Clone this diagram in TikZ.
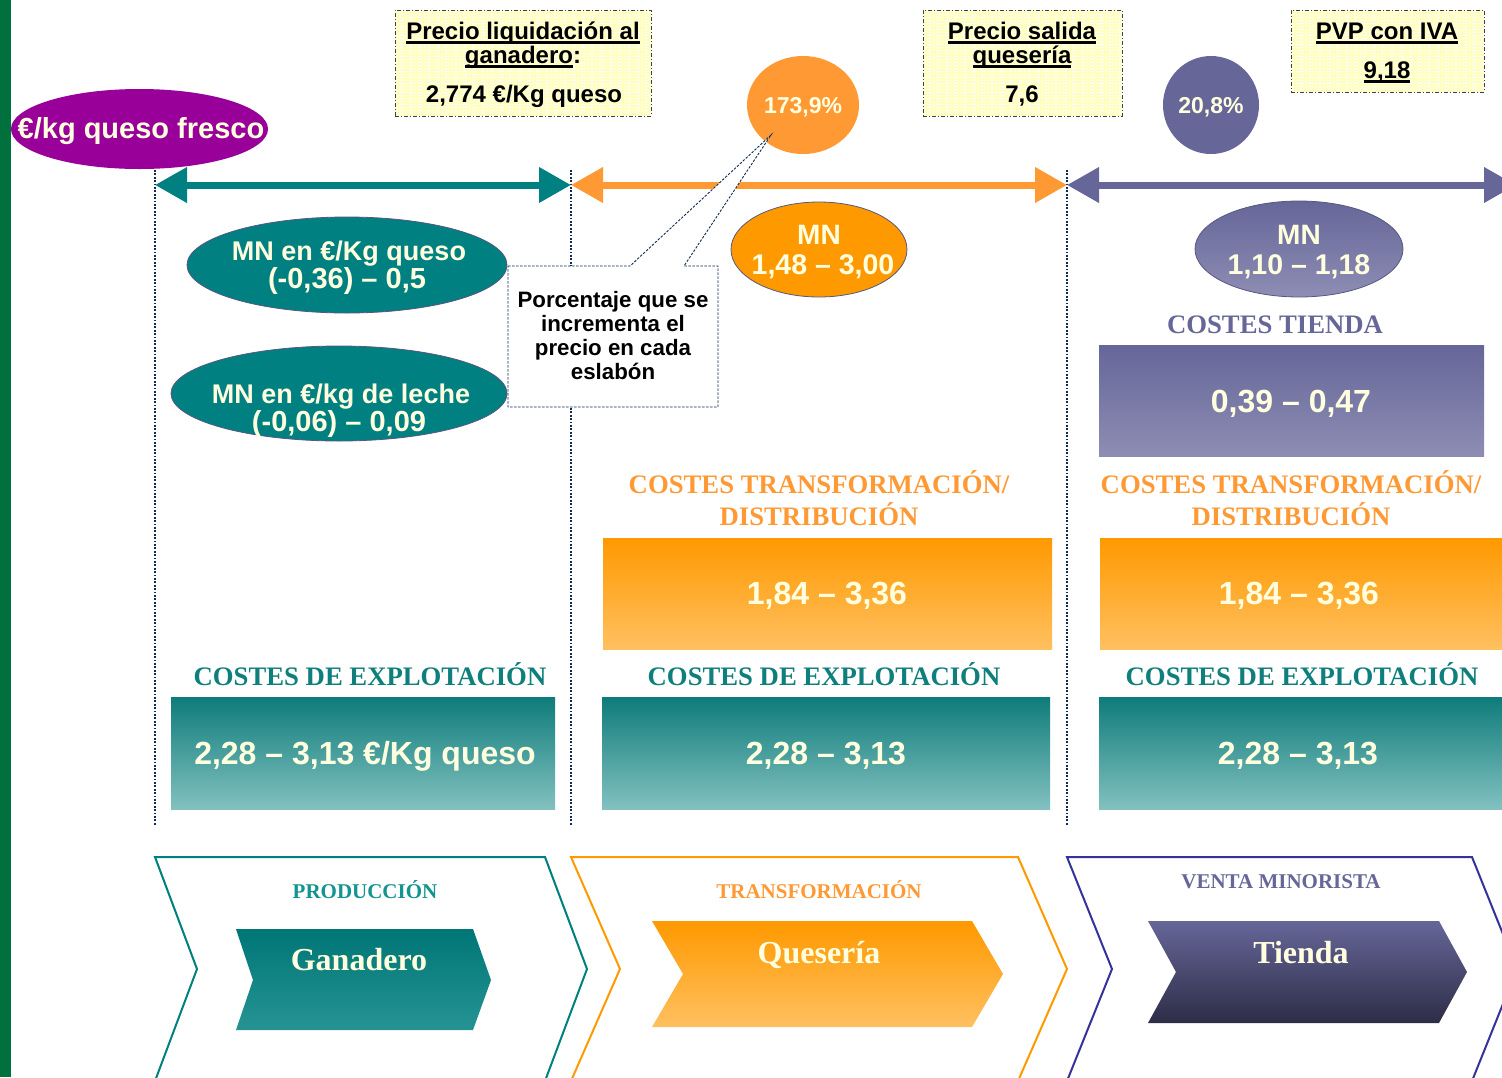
\documentclass[tikz,border=0pt]{standalone}
\usepackage{fontspec}
\setmainfont{Liberation Serif}
\setsansfont{Liberation Sans}
\usetikzlibrary{arrows.meta,shapes.geometric,patterns}

\definecolor{barGreen}{HTML}{00703C}
\definecolor{tealC}{HTML}{008080}
\definecolor{tealHead}{HTML}{0E7F7D}
\definecolor{tealSoft}{HTML}{129490}
\definecolor{tealTop}{HTML}{0E7C7A}
\definecolor{tealLight}{HTML}{82C1C0}
\definecolor{orangeC}{HTML}{FF9933}
\definecolor{orangeD}{HTML}{FF9900}
\definecolor{orangeL}{HTML}{FFC060}
\definecolor{purpleC}{HTML}{666699}
\definecolor{purpleL}{HTML}{8D8DB4}
\definecolor{purpleD}{HTML}{2D2D47}
\definecolor{navyLine}{HTML}{333399}
\definecolor{magentaC}{HTML}{990099}
\definecolor{creamT}{HTML}{FFFFE0}
\definecolor{noteYellow}{HTML}{FFFFC4}
\definecolor{dotNavy}{HTML}{102A50}

\newcommand\SansB[1]{\fontsize{#1}{#1}\sffamily\bfseries}
\newcommand\SerifB[1]{\fontsize{#1}{#1}\rmfamily\bfseries}
\newsavebox\ulbox
\newcommand\ulx[1]{\sbox\ulbox{#1}\rlap{\rule[-4.5pt]{\wd\ulbox}{2.2pt}}\usebox\ulbox}

\begin{document}
\begin{tikzpicture}[x=1pt,y=-1pt,
  txt/.style={inner sep=0pt, anchor=base},
  ytag/.style={preaction={fill=noteYellow}, pattern=horizontal lines, pattern color=white,
    draw=black!75, line width=0.9pt, dash pattern=on 4pt off 2pt on 1pt off 2pt,
    inner sep=0pt},
  dotline/.style={dotNavy, line width=2.8pt, dash pattern=on 1.8pt off 1.6pt},
  flow/.style={line width=7pt, {Triangle[length=32pt,width=34pt]}-{Triangle[length=32pt,width=34pt]}},
  oval/.style={ellipse, inner sep=0pt},
  rim/.style={draw=purpleC!85!black, line width=0.8pt},
  panel/.style={rectangle, inner sep=0pt},
  chev/.style={line width=2pt, line join=miter},
  numtxt/.style={txt, text=creamT, font={\SansB{32}}},
  head/.style={txt, font={\SerifB{26.7}}},
  tag/.style={txt, font={\SansB{24}}}
]
\path[use as bounding box] (0,0) rectangle (1502,1077);
\clip (0,0) rectangle (1502,1077);
\fill[white] (0,0) rectangle (1502,1077);

% left margin bar
\fill[barGreen] (0,0) rectangle (11,1077);

% stage borders
\coordinate (s1t) at (155,170); \coordinate (s1b) at (155,825);
\coordinate (s2t) at (571,170); \coordinate (s2b) at (571,825);
\coordinate (s3t) at (1067,170); \coordinate (s3b) at (1067,825);
\draw[dotline] (s1t) -- (s1b);
\draw[dotline] (s2t) -- (s2b);
\draw[dotline] (s3t) -- (s3b);

% stage arrows
\coordinate (a1) at (155,185);
\coordinate (a2) at (571,185);
\coordinate (a3) at (1067,185);
\coordinate (a4) at (1516,185);
\draw[flow, tealC] (a1) -- (a2);
\draw[flow, orangeC] (a2) -- (a3);
\draw[flow, purpleC] (a3) -- (a4);

% unit label
\node[oval, fill=magentaC, minimum width=257, minimum height=80] (fresh) at (139.5,129) {};
\node[txt, text=creamT, font={\SansB{29}}] (freshT) at (141,138) {€/kg queso fresco};

% price tags
\node[ytag, minimum width=256, minimum height=106] (tagA) at (523,63) {};
\node[tag] (tagA1) at (523,39) {\ulx{Precio liquidación al}};
\node[tag] (tagA2) at (523,63) {\ulx{ganadero}:};
\node[tag] (tagA3) at (524,102) {2,774 €/Kg queso};

\node[ytag, minimum width=199, minimum height=106] (tagB) at (1022.5,63) {};
\node[tag] (tagB1) at (1022,39) {\ulx{Precio salida}};
\node[tag] (tagB2) at (1022,63) {\ulx{quesería}};
\node[tag] (tagB3) at (1022,102) {7,6};

\node[ytag, minimum width=193, minimum height=82] (tagC) at (1387.5,51) {};
\node[tag] (tagC1) at (1387,39) {\ulx{PVP con IVA}};
\node[tag] (tagC2) at (1387,78) {\ulx{9,18}};

% percentage increments
\node[oval, fill=orangeC, minimum width=112, minimum height=98] (pctA) at (803,105) {};
\node[txt, text=creamT, font={\SansB{23}}] (pctAT) at (803,113) {173,9\%};
\node[oval, fill=purpleC, minimum width=96, minimum height=98] (pctB) at (1211,105) {};
\node[txt, text=creamT, font={\SansB{23}}] (pctBT) at (1211,113) {20,8\%};

% net margins, production
\node[oval, rim, fill=tealC, minimum width=320, minimum height=96] (mnA) at (347,265) {};
\node[txt, text=creamT, font={\SansB{27}}] (mnA1) at (349,260) {MN en €/Kg queso};
\node[txt, text=creamT, font={\SansB{29}}] (mnA2) at (347,288) {(-0,36) – 0,5};
\node[oval, rim, fill=tealC, minimum width=336, minimum height=95] (mnB) at (339,393.5) {};
\node[txt, text=creamT, font={\SansB{27}}] (mnB1) at (341,403) {MN en €/kg de leche};
\node[txt, text=creamT, font={\SansB{29}}] (mnB2) at (339,431) {(-0,06) – 0,09};

% net margins, cheese plant and shop
\node[oval, rim, fill=orangeD, minimum width=176, minimum height=95] (mnC) at (819,249.5) {};
\node[txt, text=creamT, font={\SansB{28}}] (mnC1) at (819,244) {MN};
\node[txt, text=creamT, font={\SansB{28.5}}] (mnC2) at (823,274) {1,48 – 3,00};
\node[oval, rim, top color=purpleC, bottom color=purpleL, minimum width=208, minimum height=96] (mnD) at (1299,249) {};
\node[txt, text=creamT, font={\SansB{28}}] (mnD1) at (1299,244) {MN};
\node[txt, text=creamT, font={\SansB{28.5}}] (mnD2) at (1299,274) {1,10 – 1,18};

% shop costs
\node[head, text=purpleC] (hdShop) at (1275,333) {COSTES TIENDA};
\node[panel, top color=purpleC, bottom color=purpleL, minimum width=385, minimum height=111] (boxShop) at (1291.5,400.5) {};
\node[numtxt] (boxShopT) at (1291,412) {0,39 – 0,47};

% processing / distribution costs
\node[head, text=orangeC] (hdTrA1) at (819,493) {COSTES TRANSFORMACIÓN/};
\node[head, text=orangeC] (hdTrA2) at (819,525) {DISTRIBUCIÓN};
\node[head, text=orangeC] (hdTrB1) at (1291,493) {COSTES TRANSFORMACIÓN/};
\node[head, text=orangeC] (hdTrB2) at (1291,525) {DISTRIBUCIÓN};
\node[panel, top color=orangeD, bottom color=orangeL, minimum width=449, minimum height=111] (boxTrA) at (827.5,593.5) {};
\node[panel, top color=orangeD, bottom color=orangeL, minimum width=410, minimum height=111] (boxTrB) at (1305,593.5) {};
\node[numtxt] (boxTrAT) at (827,604.5) {1,84 – 3,36};
\node[numtxt] (boxTrBT) at (1299,604.5) {1,84 – 3,36};

% farm costs
\node[head, text=tealHead] (hdExA) at (370,685) {COSTES DE EXPLOTACIÓN};
\node[head, text=tealHead] (hdExB) at (824,685) {COSTES DE EXPLOTACIÓN};
\node[head, text=tealHead] (hdExC) at (1302,685) {COSTES DE EXPLOTACIÓN};
\node[panel, top color=tealTop, bottom color=tealLight, minimum width=384, minimum height=112] (boxExA) at (363,753) {};
\node[panel, top color=tealTop, bottom color=tealLight, minimum width=448, minimum height=112] (boxExB) at (826,753) {};
\node[panel, top color=tealTop, bottom color=tealLight, minimum width=411, minimum height=112] (boxExC) at (1304.5,753) {};
\node[numtxt] (boxExAT) at (365,764.5) {2,28 – 3,13 €/Kg queso};
\node[numtxt] (boxExBT) at (826,764.5) {2,28 – 3,13};
\node[numtxt] (boxExCT) at (1298,764.5) {2,28 – 3,13};

% explanatory callout
\draw[dotNavy, line width=0.9pt, dash pattern=on 2.5pt off 1.5pt, fill=white]
  (508,266) -- (630,266) -- (771,135) -- (684,266) -- (718,266) -- (718,407) -- (508,407) -- cycle;
\node[txt, font={\SansB{22.3}}] (note1) at (613,307) {Porcentaje que se};
\node[txt, font={\SansB{22.3}}] (note2) at (613,331) {incrementa el};
\node[txt, font={\SansB{22.3}}] (note3) at (613,355) {precio en cada};
\node[txt, font={\SansB{22.3}}] (note4) at (613,379) {eslabón};

% value chain stages
\draw[chev, tealC] (155,857) -- (545,857) -- (587,969) -- (545,1081) -- (155,1081) -- (197,969) -- cycle;
\draw[chev, orangeD] (571,857) -- (1018,857) -- (1067,969) -- (1018,1081) -- (571,1081) -- (620,969) -- cycle;
\draw[chev, navyLine] (1067,857) -- (1472,857) -- (1517,969) -- (1472,1081) -- (1067,1081) -- (1112,969) -- cycle;

\node[txt, text=tealSoft, font={\SerifB{21}}] (stProd) at (365,898) {PRODUCCIÓN};
\node[txt, text=orangeC, font={\SerifB{21}}] (stTrans) at (819,898) {TRANSFORMACIÓN};
\node[txt, text=purpleC, font={\SerifB{21}}] (stRetail) at (1281,888) {VENTA MINORISTA};

\shade[top color=tealC!92!black, bottom color=tealC!85!white]
  (236,929) -- (473,929) -- (491,980) -- (473,1030) -- (236,1030) -- (253,980) -- cycle;
\node[txt, text=creamT, font={\SerifB{32}}] (actFarm) at (359,970) {Ganadero};

\shade[top color=orangeD, bottom color=orangeL]
  (652,921) -- (972,921) -- (1003,974) -- (972,1027) -- (652,1027) -- (683,974) -- cycle;
\node[txt, text=creamT, font={\SerifB{32}}] (actPlant) at (819,963) {Quesería};

\shade[top color=purpleC, bottom color=purpleD]
  (1148,921) -- (1439,921) -- (1467,972) -- (1439,1023) -- (1148,1023) -- (1176,972) -- cycle;
\node[txt, text=creamT, font={\SerifB{32}}] (actShop) at (1301,963) {Tienda};
\end{tikzpicture}
\end{document}
